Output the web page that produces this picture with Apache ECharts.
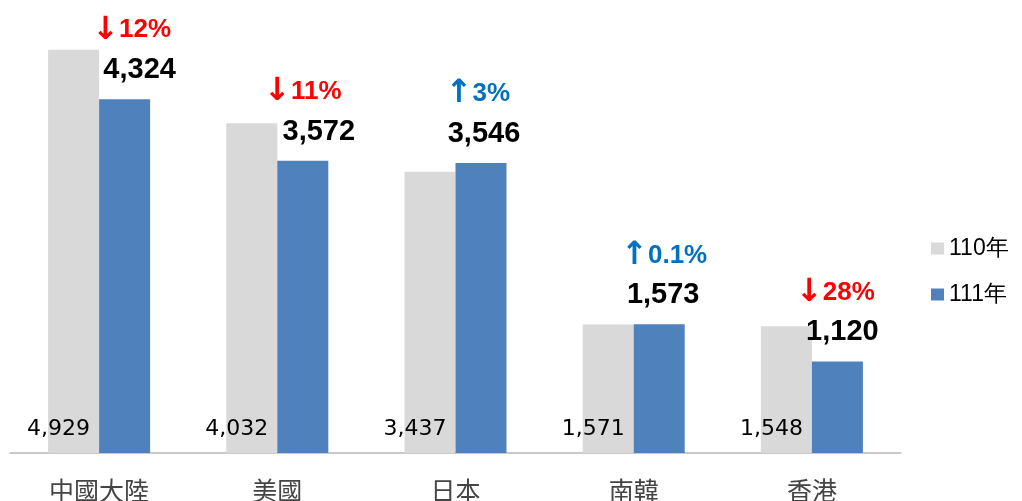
<!DOCTYPE html>
<html>
<head>
<meta charset="utf-8">
<script src="https://cdn.jsdelivr.net/npm/echarts@6/dist/echarts.min.js"></script>
<style>
html, body { margin: 0; padding: 0; background: #fff; }
#main { width: 1022px; height: 501px; }
</style>
</head>
<body>
<div id="main"></div>
<script>
// 分類與數據
var categories = ['中國大陸', '美國', '日本', '南韓', '香港'];
var seriesNames = ['110年', '111年'];
var values110 = [4929, 4032, 3437, 1571, 1548];
var values111 = [4324, 3572, 3546, 1573, 1120];
var changePct = [-12, -11, 3, 0.1, -28];

// 標籤微調 (px, 相對藍柱中心)
var valueShift = [15, 16, 3, 4, 5];
var pctShift = [7, 0, -3, 5, -2];

function fmt(v) {
	return String(v).replace(/\B(?=(\d{3})+(?!\d))/g, ',');
}

var data111 = values111.map(function (v, i) {
	var up = changePct[i] >= 0;
	var color = up ? '#0070c0' : '#ff0000';
	var dp = pctShift[i], dv = valueShift[i];
	return {
		value: v,
		label: {
			rich: {
				a: {
					color: color,
					fontFamily: 'DejaVu Sans',
					fontWeight: 'bold',
					fontSize: 32,
					lineHeight: 50,
					padding: [0, 0, 0, dp > 0 ? dp * 2 : 0]
				},
				p: {
					color: color,
					fontFamily: 'Liberation Sans',
					fontWeight: 'bold',
					fontSize: 26,
					lineHeight: 50,
					padding: [0, dp < 0 ? -dp * 2 : 0, 0, 0]
				},
				v: {
					color: '#000',
					fontFamily: 'Liberation Sans',
					fontWeight: 'bold',
					fontSize: 29,
					lineHeight: 30,
					padding: dv >= 0 ? [0, 0, 0, dv * 2] : [0, -dv * 2, 0, 0]
				}
			}
		}
	};
});

var chart = echarts.init(document.getElementById('main'));
var option = {
	backgroundColor: '#fff',
	animation: false,
	legend: {
		data: seriesNames,
		orient: 'vertical',
		left: 926,
		top: 232,
		icon: 'rect',
		itemWidth: 13,
		itemHeight: 12,
		itemGap: 23,
		textStyle: {
			color: '#000',
			fontSize: 23,
			fontFamily: 'Liberation Sans'
		}
	},
	grid: {
		left: 10,
		right: 121,
		top: 44,
		bottom: 48,
		outerBoundsMode: 'none'
	},
	xAxis: {
		type: 'category',
		data: categories,
		axisLine: { lineStyle: { color: '#b8b8b8', width: 1.5 } },
		axisTick: { show: false },
		axisLabel: {
			color: '#444',
			fontSize: 25,
			margin: 25,
			fontFamily: 'Noto Sans CJK TC'
		}
	},
	yAxis: {
		type: 'value',
		min: 0,
		max: 5000,
		show: false
	},
	series: [
		{
			name: seriesNames[0],
			type: 'bar',
			barWidth: 51,
			barGap: 0,
			itemStyle: { color: '#d9d9d9' },
			label: {
				show: true,
				position: 'insideBottomRight',
				distance: 9,
				offset: [0, -4],
				color: '#000',
				fontSize: 22,
				fontFamily: 'DejaVu Sans',
				formatter: function (p) { return fmt(p.value); }
			},
			data: values110
		},
		{
			name: seriesNames[1],
			type: 'bar',
			barWidth: 51,
			barGap: 0,
			itemStyle: { color: '#4f81bd' },
			label: {
				show: true,
				position: 'top',
				distance: 14,
				formatter: function (p) {
					var c = changePct[p.dataIndex];
					return '{a|' + (c >= 0 ? '↑' : '↓') + '}{p|' + Math.abs(c) + '%}\n{v|' + fmt(p.value) + '}';
				}
			},
			data: data111
		}
	]
};
chart.setOption(option);
</script>
</body>
</html>
